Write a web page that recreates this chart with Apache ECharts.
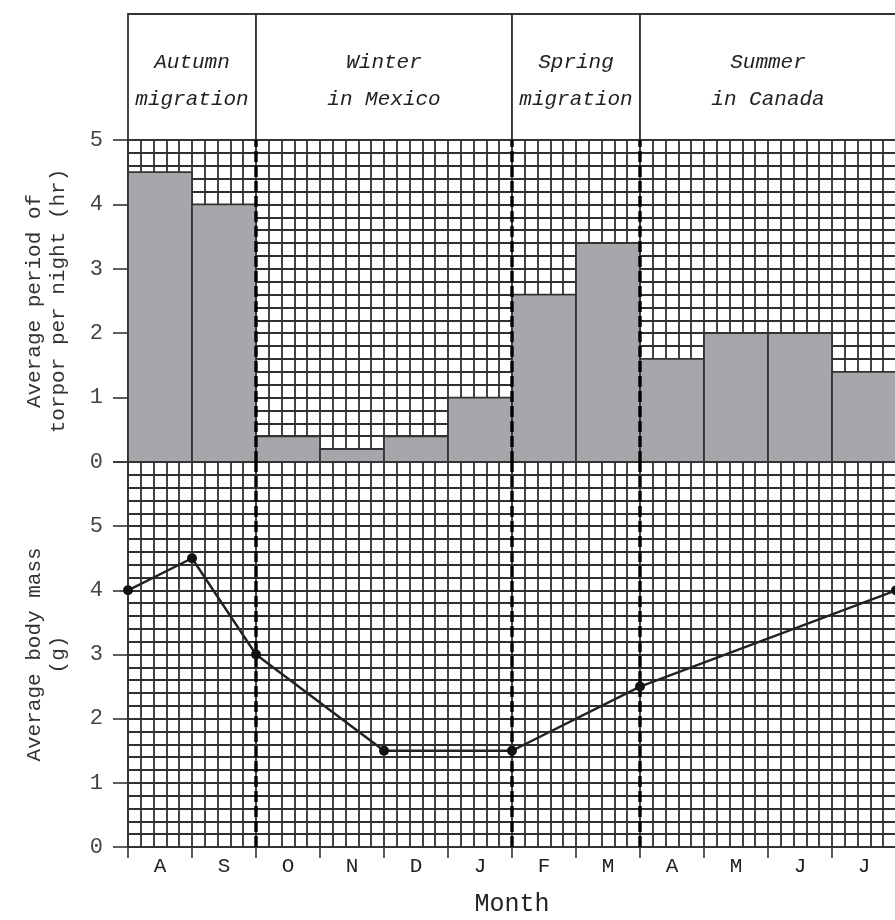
<!DOCTYPE html>
<html>
<head>
<meta charset="utf-8">
<script src="https://cdn.jsdelivr.net/npm/echarts@6/dist/echarts.min.js"></script>
<style>
  html, body { margin: 0; padding: 0; background: #fff; }
  #chart { width: 895px; height: 920px; }
</style>
</head>
<body>
<div id="chart"></div>
<script>
// data
var months = ["A", "S", "O", "N", "D", "J", "F", "M", "A", "M", "J", "J"];
var torporHours = [4.5, 4.0, 0.4, 0.2, 0.4, 1.0, 2.6, 3.4, 1.6, 2.0, 2.0, 1.4];
// body mass is plotted at month boundaries (0 = start of Aug)
var massMonthPos = [0, 1, 2, 4, 6, 8, 12];
var massGrams = [4, 4.5, 3, 1.5, 1.5, 2.5, 4];
var seasonNames = ["Autumn\nmigration", "Winter\nin Mexico", "Spring\nmigration", "Summer\nin Canada"];
var seasonStart = [0, 2, 6, 8];
var seasonEnd = [2, 6, 8, 12];

var FONT = '"Liberation Mono", "DejaVu Sans Mono", monospace';
var INK = "#333";

var chart = echarts.init(document.getElementById("chart"));

var minorSplit = {
  show: true,
  lineStyle: { color: "#303030", width: 1.8 }
};

function hiddenValueAxis(extra) {
  return Object.assign({
    type: "value",
    axisLine: { show: false },
    axisTick: { show: false },
    axisLabel: { show: false },
    splitLine: { show: false }
  }, extra);
}

// dashed season dividers, one custom series per grid
function dividerSeries(xi, yi, yMax) {
  return {
    type: "custom",
    xAxisIndex: xi,
    yAxisIndex: yi,
    z: 5,
    silent: true,
    data: seasonStart.slice(1).map(function (s) { return [s, 0]; }),
    encode: { x: 0, y: 1 },
    renderItem: function (params, api) {
      var a = api.coord([api.value(0), 0]);
      var b = api.coord([api.value(0), yMax]);
      return {
        type: "line",
        shape: { x1: a[0], y1: a[1], x2: b[0], y2: b[1] },
        style: { stroke: "#000", lineWidth: 3.4, lineDash: [11, 4] }
      };
    }
  };
}

var option = {
  animation: false,
  backgroundColor: "#fff",
  grid: [
    { left: 128, top: 140, width: 768, height: 322, outerBoundsMode: "none", containLabel: false },  // torpor bars
    { left: 128, top: 462, width: 768, height: 385, outerBoundsMode: "none", containLabel: false },  // body mass line
    { left: 128, top: 14, width: 768, height: 126, outerBoundsMode: "none", containLabel: false }    // season header
  ],
  xAxis: [
    hiddenValueAxis({ gridIndex: 0, position: "bottom", min: 0, max: 12, interval: 0.2, splitLine: minorSplit }),
    hiddenValueAxis({ gridIndex: 1, position: "top", min: 0, max: 12, interval: 0.2, splitLine: minorSplit }),
    {
      type: "category",
      gridIndex: 1,
      data: months,
      boundaryGap: true,
      position: "bottom",
      axisLine: { show: true, lineStyle: { color: INK, width: 1.8 } },
      axisTick: { show: true, inside: false, length: 11, lineStyle: { color: INK, width: 1.6 } },
      axisLabel: { color: "#222", fontFamily: FONT, fontSize: 21, margin: 9 },
      splitLine: { show: false },
      name: "Month",
      nameLocation: "middle",
      nameGap: 45,
      nameTextStyle: { color: "#222", fontFamily: FONT, fontSize: 25 }
    },
    hiddenValueAxis({ gridIndex: 2, position: "bottom", min: 0, max: 12 })
  ],
  yAxis: [
    hiddenValueAxis({ gridIndex: 0, position: "right", min: 0, max: 5, interval: 0.2, splitLine: minorSplit }),
    {
      type: "value",
      gridIndex: 0,
      position: "left",
      min: 0,
      max: 5,
      interval: 1,
      axisLine: { show: true, lineStyle: { color: INK, width: 1.8 } },
      axisTick: { show: true, inside: false, length: 15, lineStyle: { color: INK, width: 1.6 } },
      axisLabel: { color: "#444", fontFamily: FONT, fontSize: 22, margin: 25 },
      splitLine: { show: false },
      name: "Average period of\ntorpor per night (hr)",
      nameLocation: "middle",
      nameGap: 58,
      nameTextStyle: { color: "#333", fontFamily: FONT, fontSize: 21, lineHeight: 24 }
    },
    hiddenValueAxis({ gridIndex: 1, position: "right", min: 0, max: 6, interval: 0.2, splitLine: minorSplit }),
    {
      type: "value",
      gridIndex: 1,
      position: "left",
      min: 0,
      max: 6,
      interval: 1,
      axisLine: { show: true, lineStyle: { color: INK, width: 1.8 } },
      axisTick: { show: true, inside: false, length: 15, lineStyle: { color: INK, width: 1.6 } },
      axisLabel: {
        color: "#444", fontFamily: FONT, fontSize: 22, margin: 25,
        formatter: function (v) { return v > 5 ? "" : String(v); }
      },
      splitLine: { show: false },
      name: "Average body mass\n(g)",
      nameLocation: "middle",
      nameGap: 58,
      nameTextStyle: { color: "#333", fontFamily: FONT, fontSize: 21, lineHeight: 24 }
    },
    hiddenValueAxis({ gridIndex: 2, position: "left", min: 0, max: 1 })
  ],
  series: [
    {
      // torpor bars, each filling a whole month
      type: "custom",
      xAxisIndex: 0,
      yAxisIndex: 0,
      z: 3,
      data: torporHours.map(function (v, i) { return [i, v]; }),
      encode: { x: 0, y: 1 },
      renderItem: function (params, api) {
        var top = api.coord([api.value(0), api.value(1)]);
        var bot = api.coord([api.value(0) + 1, 0]);
        return {
          type: "rect",
          shape: { x: top[0], y: top[1], width: bot[0] - top[0], height: bot[1] - top[1] },
          style: { fill: "#a6a7ab", stroke: INK, lineWidth: 1.8 }
        };
      }
    },
    dividerSeries(0, 0, 5),
    {
      type: "line",
      xAxisIndex: 1,
      yAxisIndex: 2,
      z: 6,
      data: massMonthPos.map(function (x, i) { return [x, massGrams[i]]; }),
      symbol: "circle",
      symbolSize: 10,
      itemStyle: { color: "#111" },
      lineStyle: { color: "#222", width: 2.4 }
    },
    dividerSeries(1, 2, 6),
    {
      // season header boxes
      type: "custom",
      xAxisIndex: 3,
      yAxisIndex: 4,
      z: 4,
      data: seasonStart.map(function (s, i) { return [s, seasonEnd[i], 0]; }),
      encode: { x: [0, 1], y: 2 },
      renderItem: function (params, api) {
        var p0 = api.coord([api.value(0), 1]);
        var p1 = api.coord([api.value(1), 0]);
        return {
          type: "group",
          children: [
            {
              type: "rect",
              shape: { x: p0[0], y: p0[1], width: p1[0] - p0[0], height: p1[1] - p0[1] },
              style: { fill: "#fff", stroke: INK, lineWidth: 1.8 }
            },
            {
              type: "text",
              x: (p0[0] + p1[0]) / 2,
              y: (p0[1] + p1[1]) / 2 + 4,
              style: {
                text: seasonNames[params.dataIndex],
                font: "italic 21px " + FONT,
                align: "center",
                verticalAlign: "middle",
                lineHeight: 37,
                fill: "#222"
              }
            }
          ]
        };
      }
    }
  ]
};

chart.setOption(option);
</script>
</body>
</html>
